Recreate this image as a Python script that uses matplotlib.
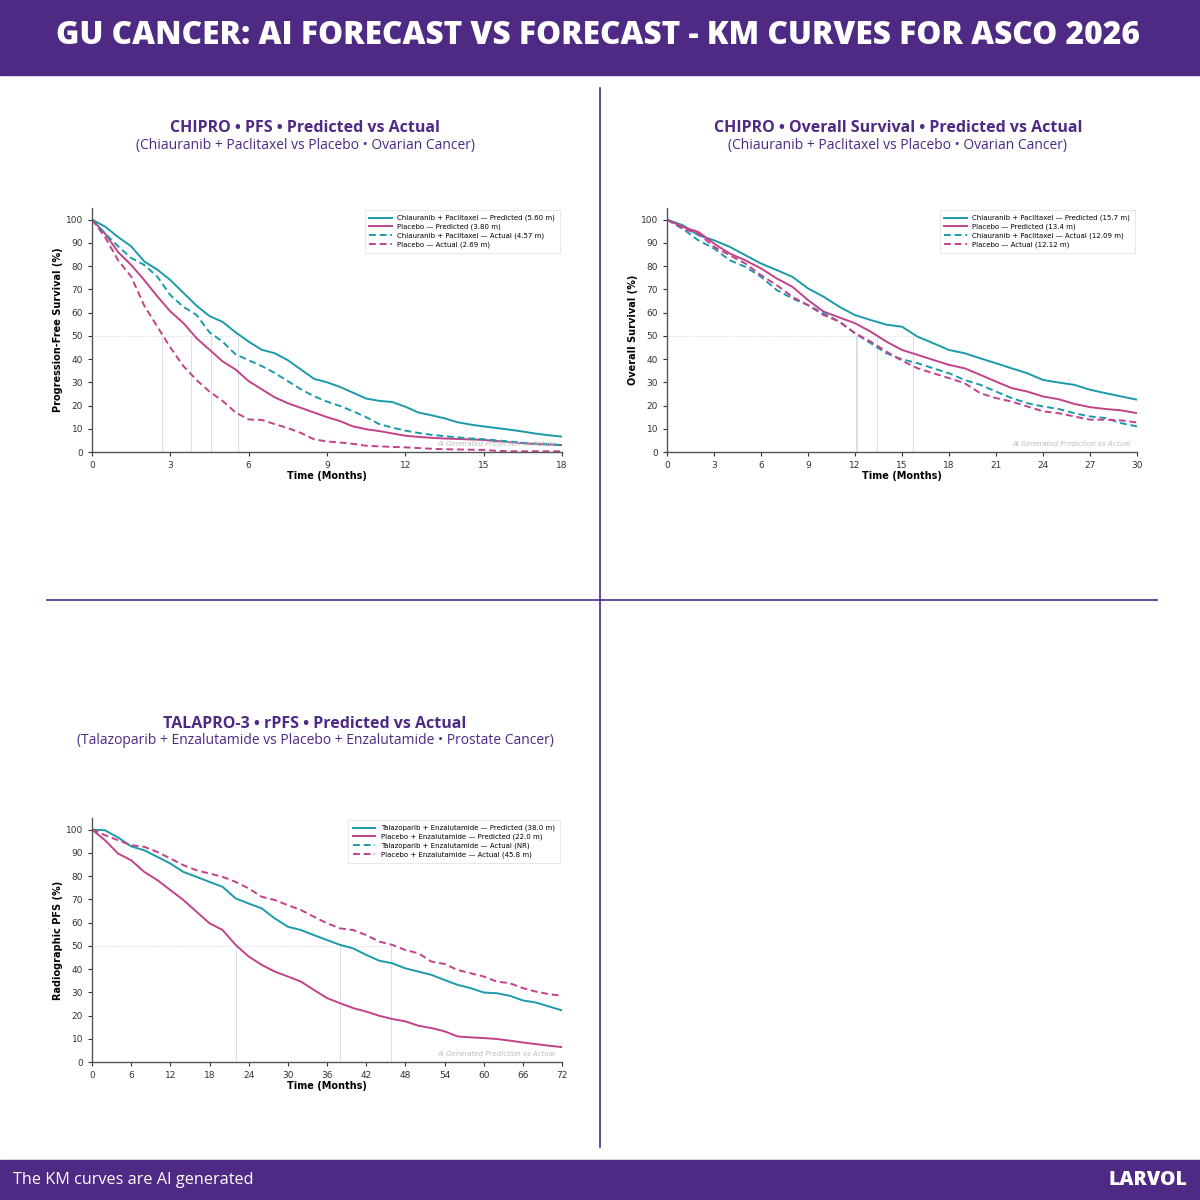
import numpy as np
import matplotlib
matplotlib.use('Agg')
import matplotlib.pyplot as plt
from matplotlib.lines import Line2D

PURPLE = '#4e2a84'
TEAL = '#1b9aaa'
MAGENTA = '#c2428a'
HEAD_FONT = 'Open Sans'

# ---- CHIPRO PFS (months, % event-free) ----
pfs_t = [0, 0.5, 1, 1.5, 2, 2.5, 3, 3.5, 4, 4.5, 5, 5.5, 6, 6.5, 7, 7.5, 8, 8.5, 9,
         9.5, 10, 10.5, 11, 11.5, 12, 12.5, 13, 13.5, 14, 14.5, 15, 15.5, 16, 16.5,
         17, 17.5, 18]
pfs_chi_pred = [100, 97, 92.5, 88.5, 82, 78.5, 74, 68.5, 63, 58.5, 56, 51.5, 47.5, 44,
                42.5, 39.5, 35.5, 31.5, 30, 28, 25.5, 23, 22, 21.5, 19.5, 17, 15.8, 14.5,
                12.8, 11.8, 11, 10.3, 9.6, 8.8, 7.9, 7.2, 6.6]
pfs_pbo_pred = [100, 94, 86, 80.5, 74, 67, 60.5, 55.5, 49, 44, 39, 35.5, 30.5, 27, 23.5,
                21, 19, 17, 15, 13.3, 11, 9.8, 9, 8, 7, 6.5, 6.1, 5.8, 5.6, 5.4, 5.2, 4.7,
                4.2, 3.8, 3.4, 3.2, 3.0]
pfs_chi_act = [100, 94, 88.5, 83.5, 80.5, 75.5, 67.5, 62.5, 59, 51.5, 47.5, 42, 39.5, 37,
               34, 30.5, 27, 24, 21.7, 19.8, 17.5, 15, 12, 10.5, 9.2, 8.2, 7.4, 6.8, 6.3,
               5.8, 5.5, 5, 4.5, 4.0, 3.6, 3.3, 3.0]
pfs_pbo_act = [100, 92.5, 82.5, 75.5, 63, 54, 45, 37, 31, 26, 22, 17, 14, 13.8, 12, 10.3,
               8.2, 5.5, 4.5, 4.1, 3.5, 2.7, 2.4, 2.2, 2.0, 1.7, 1.4, 1.2, 1.1, 1.0, 0.9,
               0.5, 0.3, 0.3, 0.3, 0.3, 0.3]
pfs_medians = [2.69, 3.80, 4.57, 5.60]
pfs_labels = ['Chiauranib + Paclitaxel \u2014 Predicted (5.60 m)',
              'Placebo \u2014 Predicted (3.80 m)',
              'Chiauranib + Paclitaxel \u2014 Actual (4.57 m)',
              'Placebo \u2014 Actual (2.69 m)']

# ---- CHIPRO OS ----
os_t = list(range(0, 31))
os_chi_pred = [100, 97.6, 93.3, 91.1, 88.3, 84.7, 81.1, 78.3, 75.4, 70.4, 66.8, 62.5,
               58.9, 56.8, 54.8, 53.9, 49.6, 46.8, 43.9, 42.5, 40.3, 38.2, 36, 33.9, 31,
               29.9, 28.9, 26.8, 25.3, 23.9, 22.5]
os_pbo_pred = [100, 96.9, 94.7, 89.7, 85.4, 82.5, 79, 74.7, 71.1, 65.4, 60.4, 57.9, 55.4,
               51.8, 47.5, 43.9, 41.8, 39.6, 37.5, 36, 33.2, 30.3, 27.5, 26, 23.9, 22.7,
               20.7, 19.3, 18.5, 17.9, 16.7]
os_chi_act = [100, 96.1, 91.1, 87.6, 82.5, 79.7, 75.4, 69.7, 66.1, 63.2, 59.7, 56.1, 51.1,
              46.8, 42.5, 39.9, 38.2, 36, 33.9, 31, 28.9, 26, 23.2, 21, 19.6, 18.5, 16.7,
              15.3, 14.6, 12.4, 11]
os_pbo_act = [100, 96.1, 94, 88.3, 84.7, 81.1, 76.1, 71.8, 66.8, 63.2, 58.9, 56.1, 51.1,
              47.5, 43.2, 39.3, 36, 33.9, 31.8, 29.6, 25.3, 23.2, 21.7, 19.6, 17.5, 16.7,
              15.3, 13.9, 13.9, 13.6, 12.7]
os_medians = [12.09, 12.12, 13.4, 15.7]
os_labels = ['Chiauranib + Paclitaxel \u2014 Predicted (15.7 m)',
             'Placebo \u2014 Predicted (13.4 m)',
             'Chiauranib + Paclitaxel \u2014 Actual (12.09 m)',
             'Placebo \u2014 Actual (12.12 m)']

# ---- TALAPRO-3 rPFS ----
rpfs_t = list(range(0, 73, 2))
rpfs_tal_pred = [100, 99.7, 96.6, 92.8, 91.1, 88.3, 85.4, 81.8, 79.7, 77.5, 75.4, 70.4,
                 68.2, 66.1, 61.8, 58.2, 56.8, 54.6, 52.5, 50.4, 48.9, 46.1, 43.6, 42.5,
                 40.3, 38.9, 37.5, 35.3, 33.2, 31.8, 29.9, 29.6, 28.5, 26.5, 25.6, 23.9, 22.2]
rpfs_pbo_pred = [100, 95.4, 89.7, 86.8, 81.8, 78.3, 74, 69.7, 64.7, 59.7, 56.8, 50.4,
                 45.4, 41.8, 38.9, 36.8, 34.6, 31, 27.5, 25.3, 23.2, 21.7, 19.9, 18.5, 17.5,
                 15.6, 14.6, 13.2, 11, 10.6, 10.3, 9.9, 9.2, 8.4, 7.7, 7.0, 6.4]
rpfs_tal_act = []  # not reached; curve not shown in the source
rpfs_pbo_act = [100, 97.6, 95.4, 93.3, 92.6, 90.4, 87.6, 84.7, 82.5, 81.1, 79.7, 77.5,
                74.7, 71.1, 69.7, 67.5, 65.4, 62.5, 59.7, 57.5, 56.8, 54.6, 51.8, 50.4,
                48.2, 46.8, 43.2, 42.2, 39.6, 38.2, 36.8, 34.6, 33.9, 31.8, 30.3, 29.2, 28.5]
rpfs_medians = [22.0, 38.0, 45.8]
rpfs_labels = ['Talazoparib + Enzalutamide \u2014 Predicted (38.0 m)',
               'Placebo + Enzalutamide \u2014 Predicted (22.0 m)',
               'Talazoparib + Enzalutamide \u2014 Actual (NR)',
               'Placebo + Enzalutamide \u2014 Actual (45.8 m)']


def km_panel(ax, t, curves, labels, medians, xmax, xstep, ylabel):
    styles = [(TEAL, '-'), (MAGENTA, '-'), (TEAL, '--'), (MAGENTA, '--')]
    for (c, ls), y, lab in zip(styles, curves, labels):
        tt = t[:len(y)]
        ax.plot(tt, y, color=c, ls=ls, lw=1.4, label=lab,
                dashes=(3.5, 2) if ls == '--' else (None, None))
    for m in medians:
        ax.plot([m, m], [0, 50], color='#d3d9e2', lw=0.6, zorder=0)
    ax.plot([0, max(medians)], [50, 50], color='#c8cdd6', lw=0.6, ls=':', zorder=0)
    ax.set_xlim(0, xmax)
    ax.set_ylim(0, 105)
    ax.set_xticks(np.arange(0, xmax + 1, xstep))
    ax.set_yticks(np.arange(0, 101, 10))
    ax.tick_params(labelsize=6.5, colors='#333333', length=3, width=0.8)
    for s in ['top', 'right']:
        ax.spines[s].set_visible(False)
    for s in ['left', 'bottom']:
        ax.spines[s].set_color('#555555')
        ax.spines[s].set_linewidth(1.0)
    ax.set_xlabel('Time (Months)', fontsize=7, fontweight='bold', labelpad=1)
    ax.set_ylabel(ylabel, fontsize=7, fontweight='bold', labelpad=2)
    leg = ax.legend(loc='upper right', fontsize=5, frameon=True, handlelength=3.2,
                    borderpad=0.7, labelspacing=0.35, borderaxespad=0.3, fancybox=False)
    leg.get_frame().set_edgecolor('#dddddd')
    leg.get_frame().set_linewidth(0.6)
    ax.text(0.985, 0.02, 'AI Generated Prediction vs Actual', transform=ax.transAxes,
            ha='right', va='bottom', fontsize=5, style='italic', color='#bbbbbb')


fig = plt.figure(figsize=(12, 12), dpi=100)

# header / footer bands
fig.add_artist(plt.Rectangle((0, 1 - 75 / 1200), 1, 75 / 1200, color=PURPLE, zorder=0))
fig.add_artist(plt.Rectangle((0, 0), 1, 40 / 1200, color=PURPLE, zorder=0))
fig.text(0.4985, 1 - 36 / 1200, 'GU CANCER: AI FORECAST VS FORECAST - KM CURVES FOR ASCO 2026',
         ha='center', va='center', color='white', fontsize=22.8, fontweight='heavy',
         family=HEAD_FONT)
fig.text(13 / 1200, 20 / 1200, 'The KM curves are AI generated', ha='left', va='center',
         color='white', fontsize=11.7, family=HEAD_FONT)
fig.text(1187 / 1200, 20 / 1200, 'LARVOL', ha='right', va='center', color='white',
         fontsize=14, fontweight='heavy', family=HEAD_FONT)

# quadrant dividers
fig.add_artist(Line2D([0.5, 0.5], [1 - 88 / 1200, 1 - 1147 / 1200], color=PURPLE, lw=1.2))
fig.add_artist(Line2D([47 / 1200, 1157 / 1200], [0.5, 0.5], color=PURPLE, lw=1.2))

ax1 = fig.add_axes([92 / 1200, 1 - 452 / 1200, 470 / 1200, 244 / 1200])
km_panel(ax1, pfs_t, [pfs_chi_pred, pfs_pbo_pred, pfs_chi_act, pfs_pbo_act], pfs_labels,
         pfs_medians, 18, 3, 'Progression-Free Survival (%)')

ax2 = fig.add_axes([667 / 1200, 1 - 452 / 1200, 470 / 1200, 244 / 1200])
km_panel(ax2, os_t, [os_chi_pred, os_pbo_pred, os_chi_act, os_pbo_act], os_labels,
         os_medians, 30, 3, 'Overall Survival (%)')

ax3 = fig.add_axes([92 / 1200, 1 - 1062 / 1200, 470 / 1200, 244 / 1200])
km_panel(ax3, rpfs_t, [rpfs_tal_pred, rpfs_pbo_pred, rpfs_tal_act, rpfs_pbo_act],
         rpfs_labels, rpfs_medians, 72, 6, 'Radiographic PFS (%)')

titles = [
    (305, 128, 'CHIPRO \u2022 PFS \u2022 Predicted vs Actual',
     '(Chiauranib + Paclitaxel vs Placebo \u2022 Ovarian Cancer)'),
    (898, 128, 'CHIPRO \u2022 Overall Survival \u2022 Predicted vs Actual',
     '(Chiauranib + Paclitaxel vs Placebo \u2022 Ovarian Cancer)'),
    (315, 724, 'TALAPRO-3 \u2022 rPFS \u2022 Predicted vs Actual',
     '(Talazoparib + Enzalutamide vs Placebo + Enzalutamide \u2022 Prostate Cancer)'),
]
for x, y, t1, t2 in titles:
    fig.text(x / 1200, 1 - y / 1200, t1, ha='center', va='center', color=PURPLE,
             fontsize=11.5, fontweight='bold', family=HEAD_FONT)
    fig.text(x / 1200, 1 - (y + 17) / 1200, t2, ha='center', va='center', color=PURPLE,
             fontsize=10, family=HEAD_FONT)

fig.savefig('out.png', dpi=100)
